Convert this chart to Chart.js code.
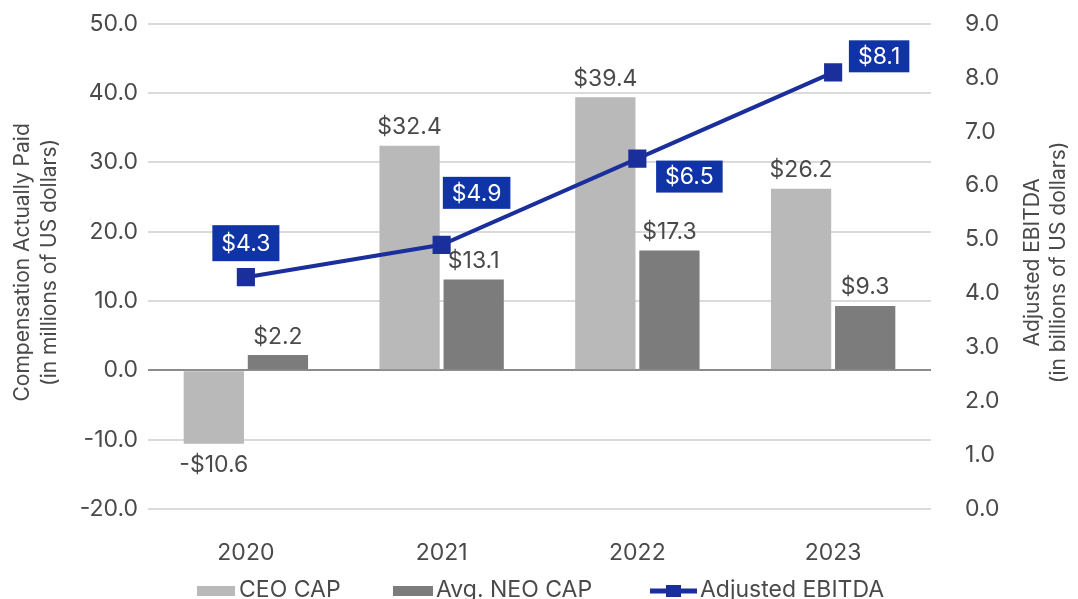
<!DOCTYPE html>
<html>
<head>
<meta charset="utf-8">
<title>CAP vs Adjusted EBITDA</title>
<script src="https://cdn.jsdelivr.net/npm/chart.js@4.4.1/dist/chart.umd.min.js"></script>
<style>
    html, body { margin: 0; padding: 0; background: #ffffff; }
    #wrap { width: 1078px; height: 599px; position: relative; }
</style>
</head>
<body>
<div id="wrap"><canvas id="chart"></canvas></div>
<script>
const years = ['2020', '2021', '2022', '2023'];
const ceoCap = [-10.6, 32.4, 39.4, 26.2];
const neoCap = [2.2, 13.1, 17.3, 9.3];
const adjustedEbitda = [4.3, 4.9, 6.5, 8.1];

const seriesNames = ['CEO CAP', 'Avg. NEO CAP', 'Adjusted EBITDA'];
const leftTitle = ['Compensation Actually Paid', '(in millions of US dollars)'];
const rightTitle = ['Adjusted EBITDA', '(in billions of US dollars)'];

const FONT = 'Inter, "Liberation Sans", Arial, sans-serif';
const TEXT = '#4a4a4a';
const CEO_COLOR = '#b9b9b9';
const NEO_COLOR = '#7c7c7c';
const LINE_COLOR = '#1b2f9c';
const BOX_COLOR = '#1034a6';

// where each EBITDA value box sits relative to its point
const boxOffsets = [[0, -34], [35, -52], [52, 18], [46, -16]];

function money(v) {
    return (v < 0 ? '-$' : '$') + Math.abs(v).toFixed(1);
}

const labelPlugin = {
    id: 'labels',
    afterDatasetsDraw: function (chart) {
        const ctx = chart.ctx;
        ctx.save();
        ctx.font = '23px ' + FONT;
        ctx.textAlign = 'center';

        // bar values
        [0, 1].forEach(function (di) {
            const meta = chart.getDatasetMeta(di);
            const values = chart.data.datasets[di].data;
            meta.data.forEach(function (bar, i) {
                ctx.fillStyle = TEXT;
                if (values[i] < 0) {
                    ctx.textBaseline = 'top';
                    ctx.fillText(money(values[i]), bar.x, bar.y + 10);
                } else {
                    ctx.textBaseline = 'bottom';
                    ctx.fillText(money(values[i]), bar.x, bar.y - 7);
                }
            });
        });

        // EBITDA boxes
        const lineMeta = chart.getDatasetMeta(2);
        lineMeta.data.forEach(function (pt, i) {
            const txt = money(adjustedEbitda[i]);
            const w = ctx.measureText(txt).width + 18;
            const h = i === 0 ? 36 : 32;
            const cx = pt.x + boxOffsets[i][0];
            const cy = pt.y + boxOffsets[i][1];
            ctx.fillStyle = BOX_COLOR;
            ctx.fillRect(cx - w / 2, cy - h / 2, w, h);
            ctx.fillStyle = '#ffffff';
            ctx.textBaseline = 'middle';
            ctx.fillText(txt, cx, cy + 1);
        });
        ctx.restore();
    },
    afterDraw: function (chart) {
        const ctx = chart.ctx;
        const area = chart.chartArea;
        const mid = (area.top + area.bottom) / 2 - 4;
        ctx.save();
        ctx.fillStyle = TEXT;
        ctx.font = '21px ' + FONT;
        ctx.textAlign = 'center';
        ctx.textBaseline = 'middle';

        // axis titles, both reading bottom to top
        [[leftTitle, 23, 50], [rightTitle, 1033, 1059]].forEach(function (t) {
            t[0].forEach(function (line, j) {
                ctx.save();
                ctx.translate(t[1 + j], mid);
                ctx.rotate(-Math.PI / 2);
                ctx.fillText(line, 0, 0);
                ctx.restore();
            });
        });

        // legend
        const ly = 590;
        ctx.font = '23px ' + FONT;
        ctx.textAlign = 'left';
        ctx.fillStyle = CEO_COLOR;
        ctx.fillRect(197, ly - 4, 38, 10);
        ctx.fillStyle = NEO_COLOR;
        ctx.fillRect(393, ly - 4, 40, 10);
        ctx.strokeStyle = LINE_COLOR;
        ctx.lineWidth = 5;
        ctx.beginPath();
        ctx.moveTo(650, ly + 1);
        ctx.lineTo(697, ly + 1);
        ctx.stroke();
        ctx.fillStyle = LINE_COLOR;
        ctx.fillRect(666, ly - 5, 15, 12);

        ctx.fillStyle = TEXT;
        ctx.fillText(seriesNames[0], 239, ly);
        ctx.fillText(seriesNames[1], 436, ly);
        ctx.fillText(seriesNames[2], 700, ly);
        ctx.restore();
    }
};

const ctx = document.getElementById('chart');

new Chart(ctx, {
    data: {
        labels: years,
        datasets: [
            {
                type: 'bar',
                label: seriesNames[0],
                data: ceoCap,
                backgroundColor: CEO_COLOR,
                yAxisID: 'y',
                order: 2,
                barPercentage: 0.94,
                categoryPercentage: 0.655
            },
            {
                type: 'bar',
                label: seriesNames[1],
                data: neoCap,
                backgroundColor: NEO_COLOR,
                yAxisID: 'y',
                order: 2,
                barPercentage: 0.94,
                categoryPercentage: 0.655
            },
            {
                type: 'line',
                label: seriesNames[2],
                data: adjustedEbitda,
                borderColor: LINE_COLOR,
                backgroundColor: LINE_COLOR,
                borderWidth: 4,
                pointStyle: 'rect',
                pointRadius: 10,
                pointHoverRadius: 10,
                yAxisID: 'y1',
                order: 1
            }
        ]
    },
    options: {
        responsive: true,
        maintainAspectRatio: false,
        animation: false,
        layout: { padding: { top: 0, left: 0, right: 0, bottom: 0 } },
        plugins: {
            legend: { display: false },
            tooltip: { enabled: false }
        },
        scales: {
            x: {
                grid: { display: false },
                border: { display: false },
                ticks: {
                    color: TEXT,
                    font: { family: FONT, size: 23 },
                    padding: 22
                },
                afterFit: function (scale) { scale.height = 90; }
            },
            y: {
                position: 'left',
                min: -20,
                max: 50,
                ticks: {
                    stepSize: 10,
                    color: TEXT,
                    font: { family: FONT, size: 23 },
                    padding: 10,
                    callback: function (v) { return v.toFixed(1); }
                },
                grid: {
                    drawTicks: false,
                    lineWidth: 2,
                    color: function (c) {
                        return c.tick && c.tick.value === 0 ? '#8c8c8c' : '#dadada';
                    }
                },
                border: { display: false },
                afterFit: function (scale) { scale.width = 148; }
            },
            y1: {
                position: 'right',
                min: 0,
                max: 9,
                ticks: {
                    stepSize: 1,
                    color: TEXT,
                    font: { family: FONT, size: 23 },
                    padding: 10,
                    callback: function (v) { return v.toFixed(1); }
                },
                grid: {
                    drawOnChartArea: false,
                    drawTicks: true,
                    tickLength: 24,
                    tickColor: 'rgba(0,0,0,0)'
                },
                border: { display: false },
                afterFit: function (scale) { scale.width = 147; }
            }
        }
    },
    plugins: [labelPlugin]
});
</script>
</body>
</html>
